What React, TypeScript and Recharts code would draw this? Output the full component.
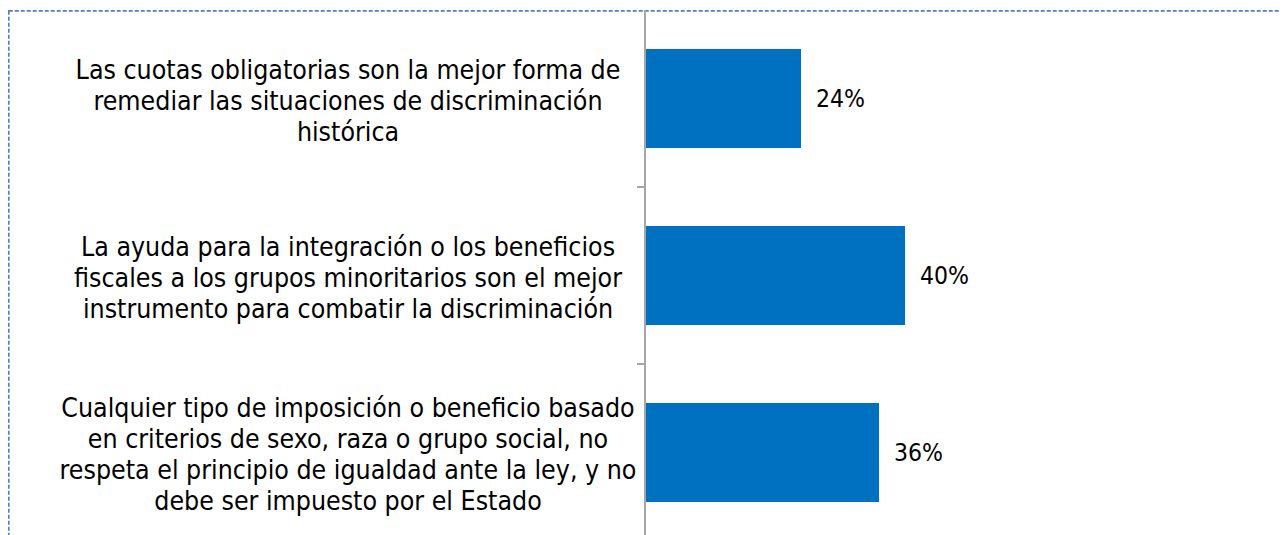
import { BarChart, Bar, XAxis, YAxis, LabelList } from 'recharts';

const categories = [
  'Las cuotas obligatorias son la mejor forma de remediar las situaciones de discriminación histórica',
  'La ayuda para la integración o los beneficios fiscales a los grupos minoritarios son el mejor instrumento para combatir la discriminación',
  'Cualquier tipo de imposición o beneficio basado en criterios de sexo, raza o grupo social, no respeta el principio de igualdad ante la ley, y no debe ser impuesto por el Estado',
];

const categoryLines = [
  ['Las cuotas obligatorias son la mejor forma de', 'remediar las situaciones de discriminación', 'histórica'],
  [
    'La ayuda para la integración o los beneficios',
    'fiscales a los grupos minoritarios son el mejor',
    'instrumento para combatir la discriminación',
  ],
  [
    'Cualquier tipo de imposición o beneficio basado',
    'en criterios de sexo, raza o grupo social, no',
    'respeta el principio de igualdad ante la ley, y no',
    'debe ser impuesto por el Estado',
  ],
];

const values = [24, 40, 36];

const data = categories.map((name, i) => ({ name, value: values[i] }));

const LINE_H = 31;

function CategoryTick(props: any) {
  const { x, y, payload, index } = props;
  const lines = categoryLines[index] || [payload.value];
  const n = lines.length;
  const cx = x - 297;
  return (
    <g>
      {index > 0 && (
        <line x1={x - 8} x2={x} y1={y - payload.offset} y2={y - payload.offset} stroke="#a6a6a6" strokeWidth={2} />
      )}
      <text
        x={cx}
        y={y}
        textAnchor="middle"
        fill="#000"
        fontSize={26.5}
        fontFamily="'DejaVu Sans Condensed', 'DejaVu Sans', sans-serif"
      >
        {lines.map((l: string, i: number) => (
          <tspan key={i} x={cx} y={y + (i - (n - 1) / 2) * LINE_H + 11}>
            {l}
          </tspan>
        ))}
      </text>
    </g>
  );
}

export default function App() {
  return (
    <div style={{ position: 'relative', width: 1276, height: 545 }}>
      <svg
        width={1277}
        height={600}
        style={{ position: 'absolute', left: 0, top: 2, pointerEvents: 'none' }}
      >
        <rect x={0.75} y={0.75} width={1275} height={590} fill="none" stroke="#4F81BD" strokeWidth={1.75} strokeDasharray="4 2" />
      </svg>
      <div style={{ position: 'absolute', left: 0, top: 2 }}>
        <BarChart
          width={1222}
          height={531}
          data={data}
          layout="vertical"
          margin={{ top: 0, right: 0, bottom: 0, left: 0 }}
          barCategoryGap="22%"
        >
          <XAxis type="number" domain={[0, 90]} hide />
          <YAxis
            type="category"
            dataKey="name"
            width={637}
            tickSize={0}
            tickMargin={0}
            tickLine={false}
            axisLine={{ stroke: '#a6a6a6', strokeWidth: 2 }}
            tick={<CategoryTick />}
            interval={0}
          />
          <Bar dataKey="value" fill="#0070C0" isAnimationActive={false}>
            <LabelList
              dataKey="value"
              position="right"
              offset={15}
              formatter={(v: any) => `${v}%`}
              fill="#000"
              fontSize={24.5}
              fontFamily="'DejaVu Sans Condensed', sans-serif"
            />
          </Bar>
        </BarChart>
      </div>
    </div>
  );
}
